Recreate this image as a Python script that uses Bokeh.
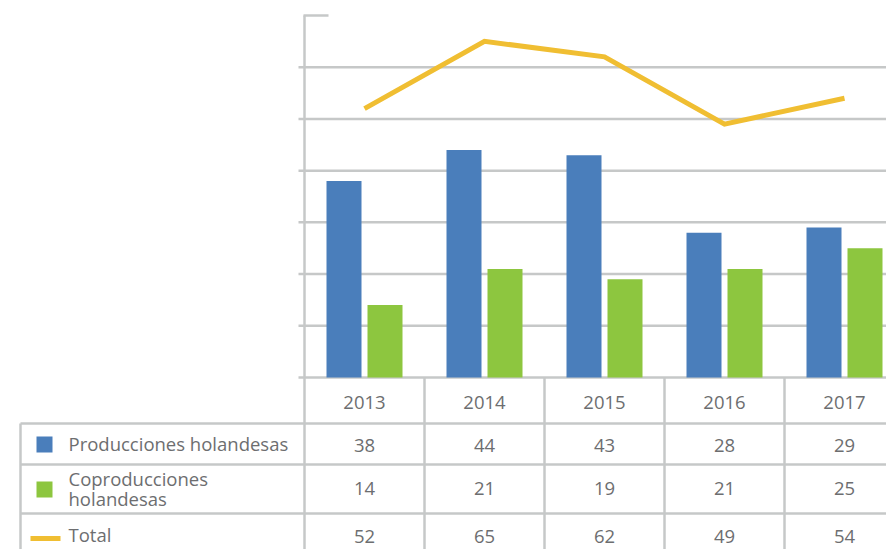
from bokeh.plotting import figure
from bokeh.models import Range1d
from bokeh.core.properties import value
from bokeh.embed import file_html
from bokeh.resources import INLINE

years = ["2013", "2014", "2015", "2016", "2017"]
producciones = [38, 44, 43, 28, 29]
coproducciones = [14, 21, 19, 21, 25]
total = [52, 65, 62, 49, 54]
series_names = ["Producciones holandesas", "Coproducciones\nholandesas", "Total"]

BLUE = "#4a7ebb"
GREEN = "#8dc63f"
YELLOW = "#f0be32"
GRID = "#c6c8c8"
TXT = "#6d6e70"
FONT = "Open Sans"

# pixel geometry helpers (page pixels -> data units)
PX = 362.0 / 70.0          # px per value unit
CW = 120.0                 # px per category
X0, Y0 = 304.0, 377.0      # page px of (x=0, y=0)
def tx(px): return (px - X0) / CW
def ty(py): return (Y0 - py) / PX

W, H = 886, 549
p = figure(width=W, height=H, output_backend="svg", toolbar_location=None,
           x_axis_location=None, y_axis_location=None, min_border=0,
           x_range=Range1d(tx(0), tx(W)), y_range=Range1d(ty(H), ty(0)))
p.outline_line_color = None
p.grid.visible = False
p.background_fill_color = "white"

n = len(years)
xc = [i + 0.5 for i in range(n)]
xend = tx(900)

# gridlines (values 0..60) + short tick at 70
gl = list(range(0, 70, 10))
p.segment(x0=[tx(298)] * len(gl), x1=[xend] * len(gl), y0=gl, y1=gl,
          line_color=GRID, line_width=2.5)
p.segment(x0=[tx(303)], x1=[tx(328)], y0=[70], y1=[70], line_color=GRID, line_width=2.5)
# axis line down through table
p.segment(x0=[0], x1=[0], y0=[70], y1=[ty(560)], line_color=GRID, line_width=2.5)

# table lines
hl = [ty(423), ty(464), ty(513)]
p.segment(x0=[tx(20)] * 3, x1=[xend] * 3, y0=hl, y1=hl, line_color=GRID, line_width=2.5)
p.segment(x0=[tx(20)], x1=[tx(20)], y0=[ty(423)], y1=[ty(560)], line_color=GRID, line_width=2.5)
vx = [1, 2, 3, 4, 5]
p.segment(x0=vx, x1=vx, y0=[0] * 5, y1=[ty(560)] * 5, line_color=GRID, line_width=2.5)

# bars
off = 20.5 / CW
bw = 35.0 / CW
p.vbar(x=[x - off for x in xc], top=producciones, bottom=0, width=bw,
       fill_color=BLUE, line_color=None)
p.vbar(x=[x + off for x in xc], top=coproducciones, bottom=0, width=bw,
       fill_color=GREEN, line_color=None)
# total line
p.line(x=xc, y=total, line_color=YELLOW, line_width=5, line_join="miter")

# table text
fs = "18.5px"
def row_text(xs, ys, texts, align="center"):
    p.text(x=xs, y=ys, text=texts, text_align=align, text_baseline="middle",
           text_color=TXT, text_font=value(FONT), text_font_size=fs)

row_text(xc, [ty(402)] * n, years)
row_text(xc, [ty(445)] * n, [str(v) for v in producciones])
row_text(xc, [ty(488)] * n, [str(v) for v in coproducciones])
row_text(xc, [ty(536)] * n, [str(v) for v in total])

# legend column
p.rect(x=[tx(44)], y=[ty(444)], width=16 / CW, height=16 / PX, fill_color=BLUE, line_color=None)
p.rect(x=[tx(44)], y=[ty(489)], width=16 / CW, height=16 / PX, fill_color=GREEN, line_color=None)
p.segment(x0=[tx(30)], x1=[tx(60)], y0=[ty(538)], y1=[ty(538)], line_color=YELLOW, line_width=5)
row_text([tx(68)], [ty(443)], [series_names[0]], align="left")
p.text(x=[tx(68)], y=[ty(488)], text=[series_names[1]], text_align="left",
       text_baseline="middle", text_color=TXT, text_font=value(FONT),
       text_font_size=fs, text_line_height=0.8)
row_text([tx(68)], [ty(534)], [series_names[2]], align="left")

open("out.html", "w").write(file_html(p, INLINE))
